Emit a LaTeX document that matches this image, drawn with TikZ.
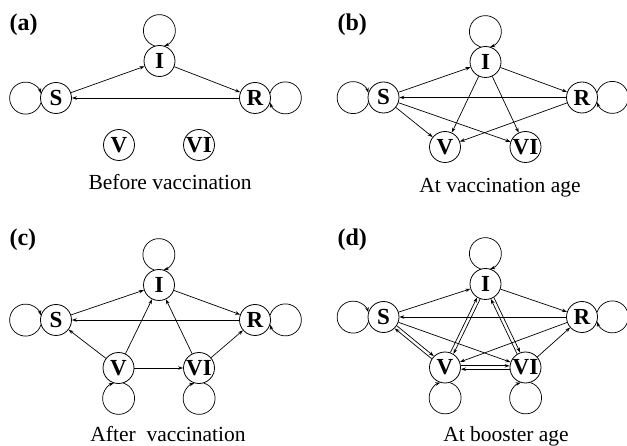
\documentclass[tikz,border=0pt]{standalone}
\usepackage{fontspec}
\setmainfont{Liberation Serif}
\usetikzlibrary{arrows.meta,calc}

\tikzset{
  st/.style={circle,draw,line width=0.8pt,minimum size=31pt,inner sep=0pt,
    font=\fontsize{23}{23}\selectfont\bfseries},
  arr/.style={line width=0.7pt,-{Stealth[length=5pt,width=3.5pt]}},
  % one of two parallel connectors between the same pair of states
  twin/.style={arr,shorten >=15.9pt,shorten <=15.9pt,
    to path={($(\tikztostart)!1.7pt!90:(\tikztotarget)$) --
      ($(\tikztotarget)!1.7pt!-90:(\tikztostart)$)}},
  panel/.style={anchor=base west,font=\fontsize{24}{24}\selectfont\bfseries},
  captxt/.style={anchor=base,font=\fontsize{21.5}{24}\selectfont},
}

% self loop: a circle beside the state, entering it clockwise
\newcommand\selfloop[2]{%
  \pgfmathsetmacro\lpA{#2+18}%
  \pgfmathsetmacro\lpB{#2+162.5}%
  \pgfmathsetmacro\lpC{#2-162.5}%
  \draw[arr] (#1.\lpA) arc[start angle=\lpB, end angle=\lpC, radius=16pt];%
}

\begin{document}
\begin{tikzpicture}[x=1pt,y=1pt]
\useasboundingbox (0,0) rectangle (627,-446);

% ---------- (a) before vaccination ----------
\node[panel] (la) at (6,-31) {(a)};
\node[st] (aI) at (159.5,-61) {I};
\node[st] (aS) at (56,-98) {S};
\node[st] (aR) at (255,-98) {R};
\node[st] (aV) at (119,-145) {V};
\node[st] (aVI) at (199,-145) {VI};
\selfloop{aI}{90}
\selfloop{aS}{180}
\selfloop{aR}{0}
\draw[arr] (aS) -- (aI);
\draw[arr] (aI) -- (aR);
\draw[arr] (aR) -- (aS);
\node[captxt] (ca) at (170,-190) {Before vaccination};

% ---------- (b) at vaccination age ----------
\node[panel] (lb) at (334,-31) {(b)};
\node[st] (bI) at (485.5,-62) {I};
\node[st] (bS) at (383.5,-97.5) {S};
\node[st] (bR) at (582,-97.5) {R};
\node[st] (bV) at (445,-147) {V};
\node[st] (bVI) at (525.5,-147) {VI};
\selfloop{bI}{90}
\selfloop{bS}{180}
\selfloop{bR}{0}
\draw[arr] (bS) -- (bI);
\draw[arr] (bI) -- (bR);
\draw[arr] (bR) -- (bS);
\draw[arr] (bS) -- (bV);
\draw[arr] (bS) -- (bVI);
\draw[arr] (bI) -- (bV);
\draw[arr] (bI) -- (bVI);
\draw[arr] (bR) -- (bV);
\node[captxt] (cb) at (500,-193) {At vaccination age};

% ---------- (c) after vaccination ----------
\node[panel] (lc) at (6,-246) {(c)};
\node[st] (cI) at (159,-285) {I};
\node[st] (cS) at (56,-320) {S};
\node[st] (cR) at (255,-320) {R};
\node[st] (cV) at (118.5,-368) {V};
\node[st] (cVI) at (199,-368) {VI};
\selfloop{cI}{90}
\selfloop{cS}{180}
\selfloop{cR}{0}
\selfloop{cV}{270}
\selfloop{cVI}{270}
\draw[arr] (cS) -- (cI);
\draw[arr] (cI) -- (cR);
\draw[arr] (cR) -- (cS);
\draw[arr] (cV) -- (cS);
\draw[arr] (cV) -- (cI);
\draw[arr] (cV) -- (cVI);
\draw[arr] (cVI) -- (cI);
\draw[arr] (cVI) -- (cR);
\node[captxt] (cc) at (168,-442) {After\ \ vaccination};

% ---------- (d) at booster age ----------
\node[panel] (ld) at (334,-246) {(d)};
\node[st] (dI) at (485.5,-284) {I};
\node[st] (dS) at (383.5,-317) {S};
\node[st] (dR) at (582,-317) {R};
\node[st] (dV) at (445,-367.5) {V};
\node[st] (dVI) at (525.5,-367.5) {VI};
\selfloop{dI}{90}
\selfloop{dS}{180}
\selfloop{dR}{0}
\selfloop{dV}{270}
\selfloop{dVI}{270}
\draw[arr] (dS) -- (dI);
\draw[arr] (dI) -- (dR);
\draw[arr] (dR) -- (dS);
\draw[arr] (dS) -- (dVI);
\draw[arr] (dR) -- (dV);
\draw[arr] (dVI) -- (dR);
\draw[twin] (dS) to (dV);
\draw[twin] (dV) to (dS);
\draw[twin] (dV) to (dI);
\draw[twin] (dI) to (dV);
\draw[twin] (dI) to (dVI);
\draw[twin] (dVI) to (dI);
\draw[twin] (dV) to (dVI);
\draw[twin] (dVI) to (dV);
\node[captxt] (cd) at (506,-442) {At booster age};
\end{tikzpicture}
\end{document}
